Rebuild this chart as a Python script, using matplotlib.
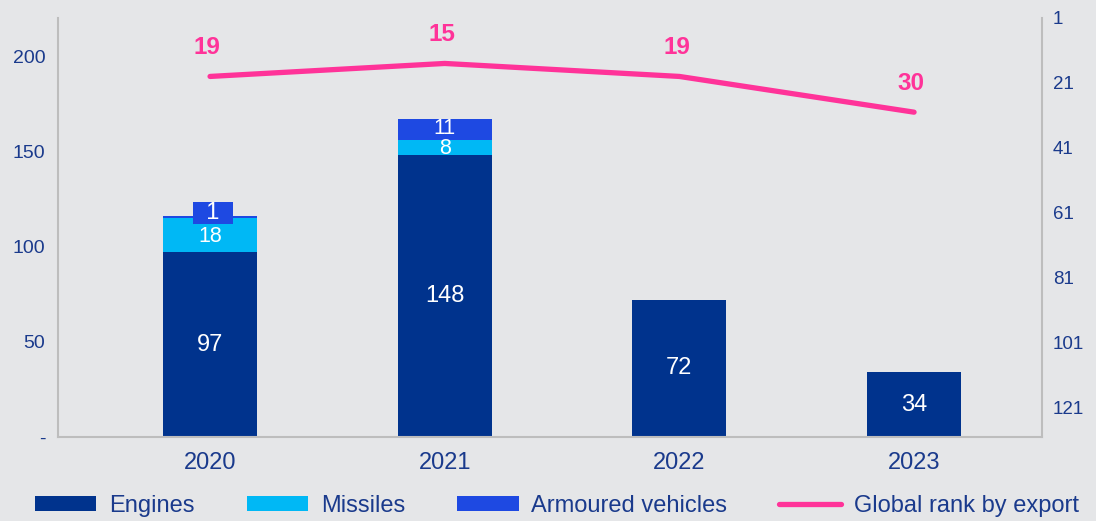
import numpy as np
import matplotlib
matplotlib.use("Agg")
import matplotlib.pyplot as plt
from matplotlib.ticker import FuncFormatter

plt.rcParams["font.family"] = ["Liberation Sans", "DejaVu Sans"]

years = ["2020", "2021", "2022", "2023"]
engines = [97, 148, 72, 34]
missiles = [18, 8, 0, 0]
armoured = [1, 11, 0, 0]
rank = [19, 15, 19, 30]

bg = "#E5E6E8"
navy = "#00338D"
cyan = "#00B8F5"
blue = "#1E49E2"
pink = "#FF3399"
txt = "#1A3A8C"
spine_c = "#BDBDBD"

fig = plt.figure(figsize=(10.96, 5.21), dpi=100, facecolor=bg)
ax = fig.add_axes([0.0529, 0.1612, 0.8978, 0.8043], facecolor=bg)
x = np.arange(len(years))
w = 0.40

eng = np.array(engines)
mis = np.array(missiles)
arm = np.array(armoured)
ax.bar(x, eng, w, color=navy, label="Engines")
ax.bar(x, mis, w, bottom=eng, color=cyan, label="Missiles")
ax.bar(x, arm, w, bottom=eng + mis, color=blue, label="Armoured vehicles")

# segment labels
for i in range(len(years)):
    ax.text(x[i], eng[i] / 2, str(eng[i]), ha="center", va="center",
            color="white", fontsize=17)
    if mis[i] > 0:
        ax.text(x[i], eng[i] + mis[i] / 2 - 0.7, str(mis[i]), ha="center",
                va="center", color="white", fontsize=15.5)
    if arm[i] > 1:
        ax.text(x[i], eng[i] + mis[i] + arm[i] / 2 + 0.7, str(arm[i]),
                ha="center", va="center", color="white", fontsize=15.5)
    elif arm[i] > 0:
        # small segment: label sits in a box just above the bar
        ax.text(x[i] + 0.012, eng[i] + mis[i] + arm[i] + 1.5, "  " + str(arm[i]) + "  ",
                ha="center", va="center", color="white", fontsize=17,
                bbox=dict(boxstyle="square,pad=0.0", fc=blue, ec="none"))

ax.set_xlim(-0.648, 3.545)
ax.set_ylim(0, 220)
ax.set_xticks(x)
ax.set_xticklabels(years)
ax.set_yticks([0, 50, 100, 150, 200])
ax.yaxis.set_major_formatter(FuncFormatter(lambda v, p: "-" if v == 0 else f"{v:.0f}"))
ax.tick_params(axis="x", length=0, pad=11, labelsize=17, labelcolor=txt)
ax.tick_params(axis="y", length=0, pad=9, labelsize=14, labelcolor=txt)
for s in ["top", "right"]:
    ax.spines[s].set_visible(False)
for s in ["left", "bottom"]:
    ax.spines[s].set_color(spine_c)
    ax.spines[s].set_linewidth(1.5)

ax2 = ax.twinx()
ax2.plot(x, rank, color=pink, lw=3.8, solid_capstyle="round",
         label="Global rank by export")
for i in range(len(years)):
    ax2.annotate(str(rank[i]), (x[i], rank[i]), xytext=(-2, 21),
                 textcoords="offset points", ha="center", va="center",
                 color=pink, fontsize=17.5, fontweight="bold")
ax2.set_ylim(130, 1)
ax2.set_yticks(np.arange(1, 122, 20))
ax2.tick_params(axis="y", length=0, pad=8, labelsize=13.5, labelcolor=txt)
for s in ["top", "left", "bottom"]:
    ax2.spines[s].set_visible(False)
ax2.spines["right"].set_color(spine_c)
ax2.spines["right"].set_linewidth(1.5)

h1, l1 = ax.get_legend_handles_labels()
h2, l2 = ax2.get_legend_handles_labels()
leg = fig.legend(h1 + h2, l1 + l2, loc="center", bbox_to_anchor=(0.508, 0.029),
                 ncol=4, frameon=False, fontsize=17, handlelength=2.6,
                 handleheight=0.6, handletextpad=0.55, columnspacing=2.2)
for t in leg.get_texts():
    t.set_color(txt)

fig.savefig("out.png", dpi=100, facecolor=bg)
